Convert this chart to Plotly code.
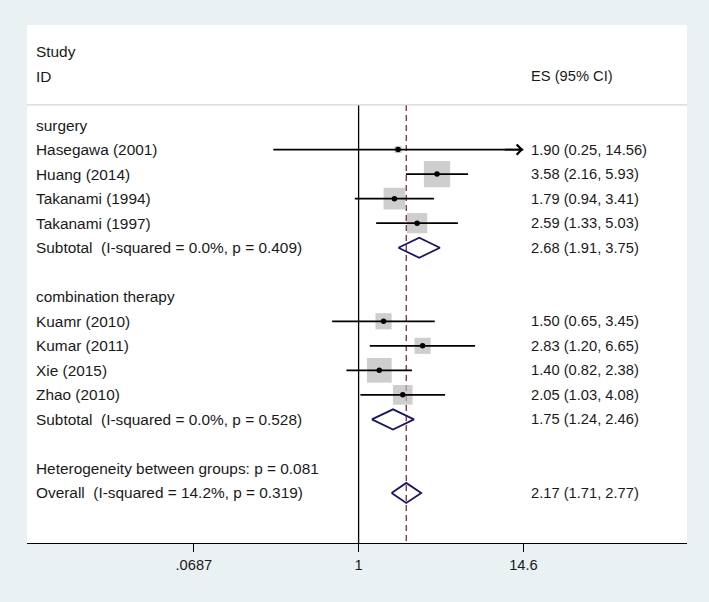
import numpy as np
import plotly.graph_objects as go

# ---------------- data ----------------
studies = ["Hasegawa (2001)", "Huang (2014)", "Takanami (1994)", "Takanami (1997)",
           "Kuamr (2010)", "Kumar (2011)", "Xie (2015)", "Zhao (2010)"]
study_rows = [1, 2, 3, 4, 8, 9, 10, 11]
es = [1.90, 3.58, 1.79, 2.59, 1.50, 2.83, 1.40, 2.05]
lo = [0.25, 2.16, 0.94, 1.33, 0.65, 1.20, 0.82, 1.03]
hi = [14.56, 5.93, 3.41, 5.03, 3.45, 6.65, 2.38, 4.08]
weights = [1.6, 22.0, 15.0, 13.0, 8.3, 8.3, 19.5, 12.3]

pooled_labels = ["Subtotal\u00a0 (I-squared = 0.0%, p = 0.409)",
                 "Subtotal\u00a0 (I-squared = 0.0%, p = 0.528)",
                 "Overall\u00a0 (I-squared = 14.2%, p = 0.319)"]
pooled_rows = [5, 12, 15]
pooled_es = [2.68, 1.75, 2.17]
pooled_lo = [1.91, 1.24, 1.71]
pooled_hi = [3.75, 2.46, 2.77]

group_labels = ["surgery", "combination therapy"]
group_rows = [0, 7]
het_label = "Heterogeneity between groups: p = 0.081"
het_row = 14

tick_vals = [0.0687, 1, 14.6]
tick_text = [".0687", "1", "14.6"]

# ---------------- style ----------------
FONT = "Liberation Sans, Arial, sans-serif"
FS_LEFT = 15.4
FS = 14.7
TXT = "#1a1a1a"
BOX = "#b9b9b9"
NAVY = "#16166b"
RED = "#8b2530"
BG = "#e9f1f3"
SEP_ROW = -0.82
Y_TOP, Y_BOT = -4.08, 17.04
LEFT_X = 0.0102
ES_X = 0.7612
DIAMOND_H = 0.41

fig = go.Figure()

# reference lines
overall_es = pooled_es[-1]
fig.add_trace(go.Scatter(x=[1, 1], y=[SEP_ROW, Y_BOT + 0.5], mode="lines",
                         line=dict(color="black", width=1.3), hoverinfo="skip"))
fig.add_trace(go.Scatter(x=[overall_es, overall_es], y=[SEP_ROW, Y_BOT + 0.5], mode="lines",
                         line=dict(color=RED, width=1.3, dash="6px,4px"), hoverinfo="skip"))

# weight boxes
sizes = [5.6 * np.sqrt(w) for w in weights]
fig.add_trace(go.Scatter(x=es, y=study_rows, mode="markers",
                         marker=dict(symbol="square", size=sizes, color=BOX,
                                     line=dict(width=0)),
                         hoverinfo="skip"))

# CI lines
for e, l, h, r in zip(es, lo, hi, study_rows):
    fig.add_trace(go.Scatter(x=[l, h], y=[r, r], mode="lines",
                             line=dict(color="black", width=1.8), hoverinfo="skip"))

# point estimates
fig.add_trace(go.Scatter(x=es, y=study_rows, mode="markers",
                         marker=dict(symbol="circle", size=5.5, color="black"),
                         hoverinfo="skip"))

# diamonds
for e, l, h, r in zip(pooled_es, pooled_lo, pooled_hi, pooled_rows):
    fig.add_trace(go.Scatter(x=[l, e, h, e, l], y=[r, r - DIAMOND_H, r, r + DIAMOND_H, r],
                             mode="lines", line=dict(color=NAVY, width=1.8),
                             hoverinfo="skip"))

annotations = []

def txt(x, y, s, size):
    annotations.append(dict(x=x, y=y, xref="paper", yref="y", text=s, showarrow=False,
                            xanchor="left", yanchor="middle",
                            font=dict(family=FONT, size=size, color=TXT)))

txt(LEFT_X, -3, "Study", FS_LEFT)
txt(LEFT_X, -2, "ID", FS_LEFT)
txt(ES_X, -2, "ES (95% CI)", FS)
for g, r in zip(group_labels, group_rows):
    txt(LEFT_X, r, g, FS_LEFT)
for s, r, e, l, h in zip(studies, study_rows, es, lo, hi):
    txt(LEFT_X, r, s, FS_LEFT)
    txt(ES_X, r, f"{e:.2f} ({l:.2f}, {h:.2f})", FS)
for s, r, e, l, h in zip(pooled_labels, pooled_rows, pooled_es, pooled_lo, pooled_hi):
    txt(LEFT_X, r, s, FS_LEFT)
    txt(ES_X, r, f"{e:.2f} ({l:.2f}, {h:.2f})", FS)
txt(LEFT_X, het_row, het_label, FS_LEFT)

# arrow for CI exceeding the axis
for h, r in zip(hi, study_rows):
    if h >= 14.5:
        annotations.append(dict(x=np.log10(h), y=r, xref="x", yref="y", text="",
                                showarrow=True, arrowhead=4, arrowsize=1.1,
                                arrowwidth=1.8, arrowcolor="black",
                                ax=-20, ay=0, standoff=0))

fig.update_layout(
    width=709, height=602,
    margin=dict(l=27, r=22, t=25, b=59),
    paper_bgcolor=BG, plot_bgcolor="white",
    showlegend=False, hovermode=False,
    annotations=annotations,
    shapes=[dict(type="line", xref="paper", yref="y", x0=0, x1=1, y0=SEP_ROW, y1=SEP_ROW,
                 line=dict(color="#d4d4d4", width=1.2))],
    xaxis=dict(type="log", range=[-2.3417, 2.3191], showgrid=False, zeroline=False,
               showline=True, linecolor="black", linewidth=1.3,
               ticks="outside", ticklen=8, tickwidth=1.3, tickcolor="black",
               tickmode="array", tickvals=tick_vals, ticktext=tick_text,
               tickfont=dict(family=FONT, size=FS, color=TXT), fixedrange=True),
    yaxis=dict(range=[Y_BOT, Y_TOP], visible=False, showgrid=False, zeroline=False,
               fixedrange=True),
)

fig.write_html(
    "out.html",
    config={"displayModeBar": False},
    post_script="document.body.style.margin='0';document.body.style.overflow='hidden';"
                "document.body.style.background='" + BG + "';",
)
